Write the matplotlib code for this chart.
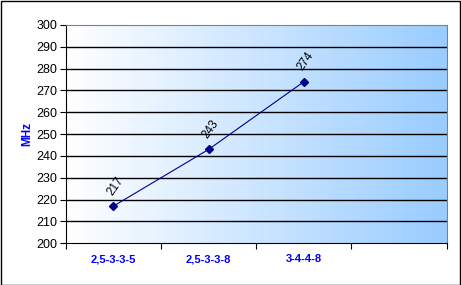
import numpy as np
import matplotlib.pyplot as plt
from matplotlib.colors import LinearSegmentedColormap
from matplotlib.patches import Rectangle

plt.rcParams['font.family'] = ['Liberation Sans', 'DejaVu Sans']

categories = ['2,5-3-3-5', '2,5-3-3-8', '3-4-4-8', '']
values = [217, 243, 274]
yticks = list(range(200, 301, 10))

fig = plt.figure(figsize=(4.61, 2.85), dpi=100)
ax = fig.add_axes([65.7 / 461, 1 - 243.3 / 285, (446.7 - 65.7) / 461, (243.3 - 25) / 285])

# gradient background, white to light blue
cmap = LinearSegmentedColormap.from_list('bg', ['#ffffff', '#99ccff'])
grad = np.linspace(0, 1, 256).reshape(1, -1)
ax.imshow(grad, cmap=cmap, aspect='auto', extent=[0, 4, 200, 300], zorder=0)

ax.set_xlim(0, 4)
ax.set_ylim(200, 300)

for y in yticks[1:-1]:
    ax.axhline(y, color='black', lw=1, zorder=1)

x = np.arange(len(values)) + 0.5
ax.plot(x, values, color='#00008b', lw=0.8, marker='D', ms=4,
        markerfacecolor='#00008b', markeredgecolor='#00008b', zorder=3)
for xi, v in zip(x, values):
    ax.annotate(str(v), (xi, v), xytext=(1.5, 14.5), textcoords='offset points',
                rotation=55, fontsize=8.5, ha='center', va='center',
                rotation_mode='anchor', zorder=4)

ax.set_yticks(yticks)
ax.set_yticklabels([str(t) for t in yticks], fontsize=9)
ax.set_xticks(range(5))
ax.set_xticklabels([])
ax.set_xticks(x.tolist() + [3.5], minor=True)
ax.set_xticklabels(categories, minor=True, fontsize=8, color='#0000ff', fontweight='bold')
ax.tick_params(axis='x', which='minor', length=0, pad=8)
ax.tick_params(axis='x', which='major', length=4, direction='out', color='black')
ax.tick_params(axis='y', length=4, direction='out', color='black', pad=2)

ax.set_ylabel('MHz', color='#0000ff', fontweight='bold', fontsize=8.5, labelpad=2)

ax.spines['left'].set_color('black')
ax.spines['bottom'].set_color('black')
ax.spines['top'].set_color('#808080')
ax.spines['right'].set_color('#808080')

fig.patches.append(Rectangle((0.5 / 461, 0.5 / 285), 459.5 / 461, 283.5 / 285,
                             transform=fig.transFigure, fill=False,
                             edgecolor='black', lw=1))

plt.savefig('out.png', dpi=100)
